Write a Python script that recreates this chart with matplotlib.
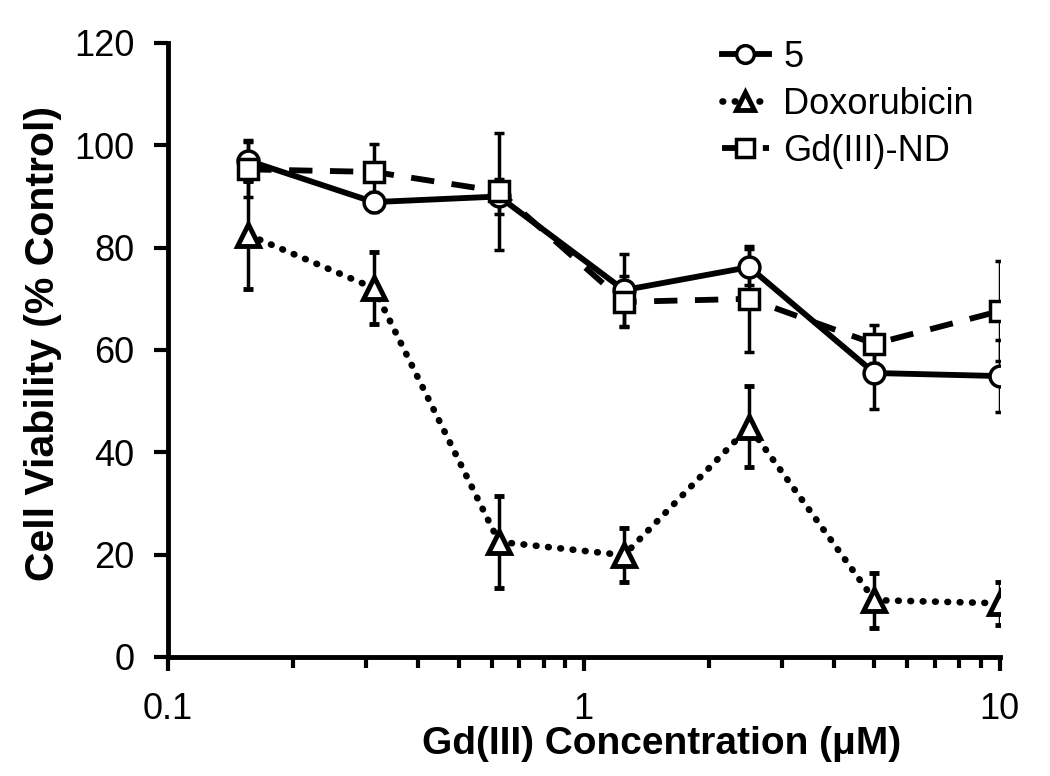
import matplotlib
matplotlib.use("Agg")
import matplotlib.pyplot as plt
from matplotlib.ticker import FixedLocator, NullFormatter, LogLocator

plt.rcParams['font.family'] = ['Liberation Sans', 'DejaVu Sans']

conc = [0.156, 0.3125, 0.625, 1.25, 2.5, 5, 10]

cmpd5 = [97.0, 88.9, 90.0, 71.7, 76.2, 55.5, 54.9]
cmpd5_err = [4.0, 2.0, 3.5, 7.0, 3.5, 7.0, 7.0]

doxo = [82.5, 72.1, 22.5, 19.9, 45.0, 11.1, 10.5]
doxo_err = [10.5, 7.0, 9.0, 5.3, 7.9, 5.4, 4.2]

gdnd = [95.3, 94.8, 91.0, 69.4, 70.0, 61.2, 67.6]
gdnd_err = [5.4, 5.4, 11.5, 5.0, 10.4, 3.7, 9.7]

labels = ['5', 'Doxorubicin', 'Gd(III)-ND']

fig = plt.figure(figsize=(10.5, 7.76), dpi=100)
ax = fig.add_axes([0.16, 0.1534, 0.792, 0.7912])

eb = dict(ecolor='black', elinewidth=2.5, capsize=3.5, capthick=2.5)

c1 = ax.errorbar(conc, cmpd5, yerr=cmpd5_err, color='black', lw=4.2, ls='-',
                 marker='o', ms=15, mfc='white', mec='black', mew=2.5, zorder=3,
                 label=labels[0], **eb)
c2 = ax.errorbar(conc, doxo, yerr=doxo_err, color='black', lw=4.8, ls=(0, (0.1, 1.75)),
                 dash_capstyle='round', marker='^', ms=16, mfc='white', mec='black',
                 mew=3.5, zorder=3, label=labels[1], **eb)
c3 = ax.errorbar(conc, gdnd, yerr=gdnd_err, color='black', lw=4.2, ls=(0, (4, 3)),
                 marker='s', ms=15, mfc='white', mec='black', mew=2.5, zorder=3,
                 label=labels[2], **eb)

ax.set_xscale('log')
ax.set_xlim(0.1, 10)
ax.set_ylim(0, 120)
ax.set_yticks([0, 20, 40, 60, 80, 100, 120])
ax.xaxis.set_major_locator(FixedLocator([0.1, 1, 10]))
ax.set_xticklabels(['0.1', '1', '10'])
ax.xaxis.set_minor_locator(LogLocator(base=10, subs=range(2, 10)))
ax.xaxis.set_minor_formatter(NullFormatter())

for s in ['top', 'right']:
    ax.spines[s].set_visible(False)
for s in ['left', 'bottom']:
    ax.spines[s].set_linewidth(3.5)

ax.tick_params(axis='x', which='major', direction='out', length=10, width=3,
               labelsize=26, pad=15)
ax.tick_params(axis='x', which='minor', direction='out', length=8, width=3)
ax.tick_params(axis='y', which='major', direction='out', length=10, width=3,
               labelsize=26, pad=14)

ax.set_xlabel('Gd(III) Concentration (μM)', fontsize=28, fontweight='bold')
ax.xaxis.set_label_coords(0.593, -0.113)
ax.set_ylabel('Cell Viability (% Control)', fontsize=29.5, fontweight='bold')
ax.yaxis.set_label_coords(-0.127, 0.51)

leg = ax.legend(handles=[c1[0], c2[0], c3[0]], labels=labels,
                loc='upper left', bbox_to_anchor=(722 / 1050, 1 - 40 / 776),
                bbox_transform=fig.transFigure, frameon=False,
                fontsize=26, handlelength=1.3, handletextpad=0.4, labelspacing=0.33,
                borderpad=0, borderaxespad=0, markerscale=0.85)

fig.savefig('out.png', dpi=100, facecolor='white')
